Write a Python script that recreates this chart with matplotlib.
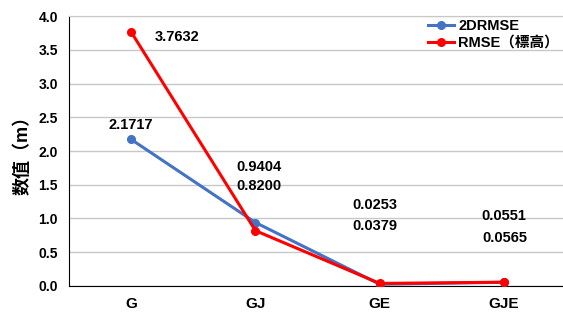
import matplotlib.pyplot as plt

plt.rcParams['font.family'] = ['Liberation Sans', 'Noto Sans CJK SC', 'DejaVu Sans']

# data
cats = ['G', 'GJ', 'GE', 'GJE']
drmse = [2.1717, 0.9404, 0.0253, 0.0551]
rmse_h = [3.7632, 0.8200, 0.0379, 0.0565]

# label positions (data units)
drmse_lbl_y = [2.385, 1.763, 1.20, 1.037]
rmse_lbl_y = [3.69, 1.48, 0.889, 0.711]
drmse_lbl_dx = [0.0, 0.03, -0.04, 0.0]
rmse_lbl_dx = [0.19, 0.03, -0.04, 0.01]

fig = plt.figure(figsize=(5.63, 3.15), dpi=100)
ax = fig.add_axes([0.1226, 0.0921, 0.883, 0.857])

x = list(range(len(cats)))
ax.plot(x, drmse, color='#4472C4', lw=2.2, marker='o', ms=5.5, label='2DRMSE', zorder=3)
ax.plot(x, rmse_h, color='#FF0000', lw=2.2, marker='o', ms=5.5, label='RMSE（標高）', zorder=4)

for i, v in enumerate(drmse):
    ax.text(i + drmse_lbl_dx[i], drmse_lbl_y[i], f'{v:.4f}',
            ha='center', va='center', fontsize=10.5, fontweight='bold')
for i, v in enumerate(rmse_h):
    ax.text(i + rmse_lbl_dx[i], rmse_lbl_y[i], f'{v:.4f}',
            ha='left' if i == 0 else 'center', va='center',
            fontsize=10.5, fontweight='bold')

ax.set_xlim(-0.5, 3.5)
ax.set_ylim(0, 4.0)
ax.set_yticks([0, 0.5, 1.0, 1.5, 2.0, 2.5, 3.0, 3.5, 4.0])
ax.set_yticklabels([f'{t:.1f}' for t in ax.get_yticks()])
ax.set_xticks(x)
ax.set_xticklabels(cats)
ax.grid(axis='y', color='#C8C8C8', lw=1)
ax.set_axisbelow(True)
ax.tick_params(length=0, labelsize=10, pad=8)
ax.tick_params(axis='x', labelsize=11, pad=8)
for lab in ax.get_xticklabels() + ax.get_yticklabels():
    lab.set_fontweight('bold')
ax.spines['top'].set_color('#C8C8C8')
ax.spines['right'].set_visible(False)
ax.spines['left'].set_color('black')
ax.spines['bottom'].set_color('black')
ax.set_ylabel('数值（m）', fontsize=13, fontweight='bold', labelpad=5)

leg = ax.legend(loc='upper right', bbox_to_anchor=(1.006, 1.025), frameon=False,
                prop={'weight': 'bold', 'size': 10.5}, handlelength=1.8,
                borderaxespad=0.3, labelspacing=0.15, handletextpad=0.3)

fig.savefig('out.png', dpi=100)
